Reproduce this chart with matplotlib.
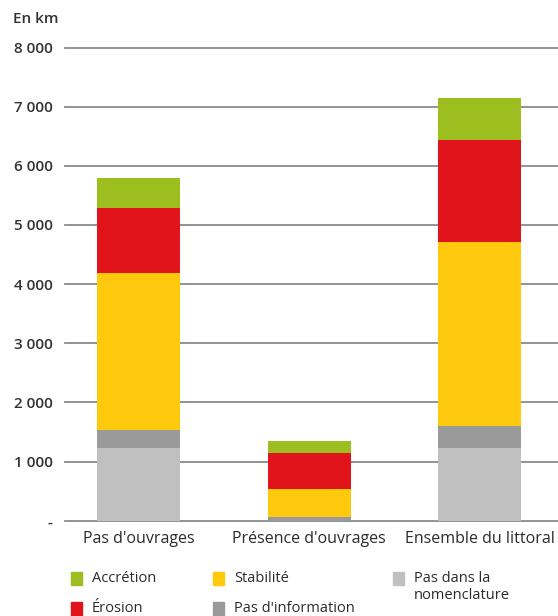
import matplotlib.pyplot as plt
from matplotlib.patches import Rectangle
from matplotlib.ticker import FuncFormatter

plt.rcParams['font.family'] = ['Open Sans', 'DejaVu Sans']

categories = ["Pas d'ouvrages", "Présence d'ouvrages", "Ensemble du littoral"]
pas_nomenclature = [1235, 5, 1235]
pas_information = [300, 64, 366]
stabilite = [2647, 468, 3114]
erosion = [1108, 608, 1729]
accretion = [497, 203, 698]

series = [
    ("Pas dans la\nnomenclature", pas_nomenclature, "#c0c0c0"),
    ("Pas d'information", pas_information, "#9a9a9a"),
    ("Stabilité", stabilite, "#ffc90d"),
    ("Érosion", erosion, "#e1141b"),
    ("Accrétion", accretion, "#9cbf1f"),
]

W, H = 558, 616
fig = plt.figure(figsize=(W / 100, H / 100), dpi=100)
ax = fig.add_axes([65 / W, 1 - 520.8 / H, 1 - 65 / W, (520.8 - 47.5) / H])

x = range(len(categories))
bottom = [0] * len(categories)
for name, vals, col in series:
    ax.bar(x, vals, width=0.487, bottom=bottom, color=col, zorder=3)
    bottom = [b + v for b, v in zip(bottom, vals)]

ax.set_xlim(-0.431, 2.46)
ax.set_ylim(0, 8000)
ax.set_yticks(range(0, 8001, 1000))
ax.yaxis.set_major_formatter(FuncFormatter(
    lambda v, p: "-" if v == 0 else f"{int(v):,}".replace(",", " ")))
ax.grid(axis="y", color="#8a8a8a", linewidth=1.3, zorder=1)
for gl in ax.get_ygridlines():
    gl.set_clip_on(False)
for s in ax.spines.values():
    s.set_visible(False)
ax.tick_params(axis="y", length=0, pad=9, labelsize=11, labelcolor="#333333")
for t in ax.get_yticklabels():
    t.set_fontweight("semibold")
ax.tick_params(axis="x", length=0, pad=7, labelsize=11.5, labelcolor="#2b2b2b")
ax.set_xticks(list(x))
ax.set_xticklabels(categories)

fig.text(13 / W, 1 - 19 / H, "En km", fontsize=11, fontweight="semibold",
         color="#333333", va="center", ha="left")

# legend, laid out by hand in three columns
legend_items = [
    ("Accrétion", "#9cbf1f", 71, 579),
    ("Érosion", "#e1141b", 71, 609),
    ("Stabilité", "#ffc90d", 213, 579),
    ("Pas d'information", "#9a9a9a", 213, 609),
    ("Pas dans la\nnomenclature", "#c0c0c0", 393, 579),
]
for label, col, px, py in legend_items:
    fig.patches.append(Rectangle((px / W, 1 - (py + 6) / H), 11 / W, 13 / H,
                                 transform=fig.transFigure, color=col))
    if "\n" in label:
        fig.text((px + 21) / W, 1 - (py - 8) / H, label, fontsize=10.5,
                 color="#2b2b2b", va="top", ha="left", linespacing=1.15)
    else:
        fig.text((px + 21) / W, 1 - py / H, label, fontsize=10.5,
                 color="#2b2b2b", va="center", ha="left")

fig.savefig("out.png", dpi=100)
